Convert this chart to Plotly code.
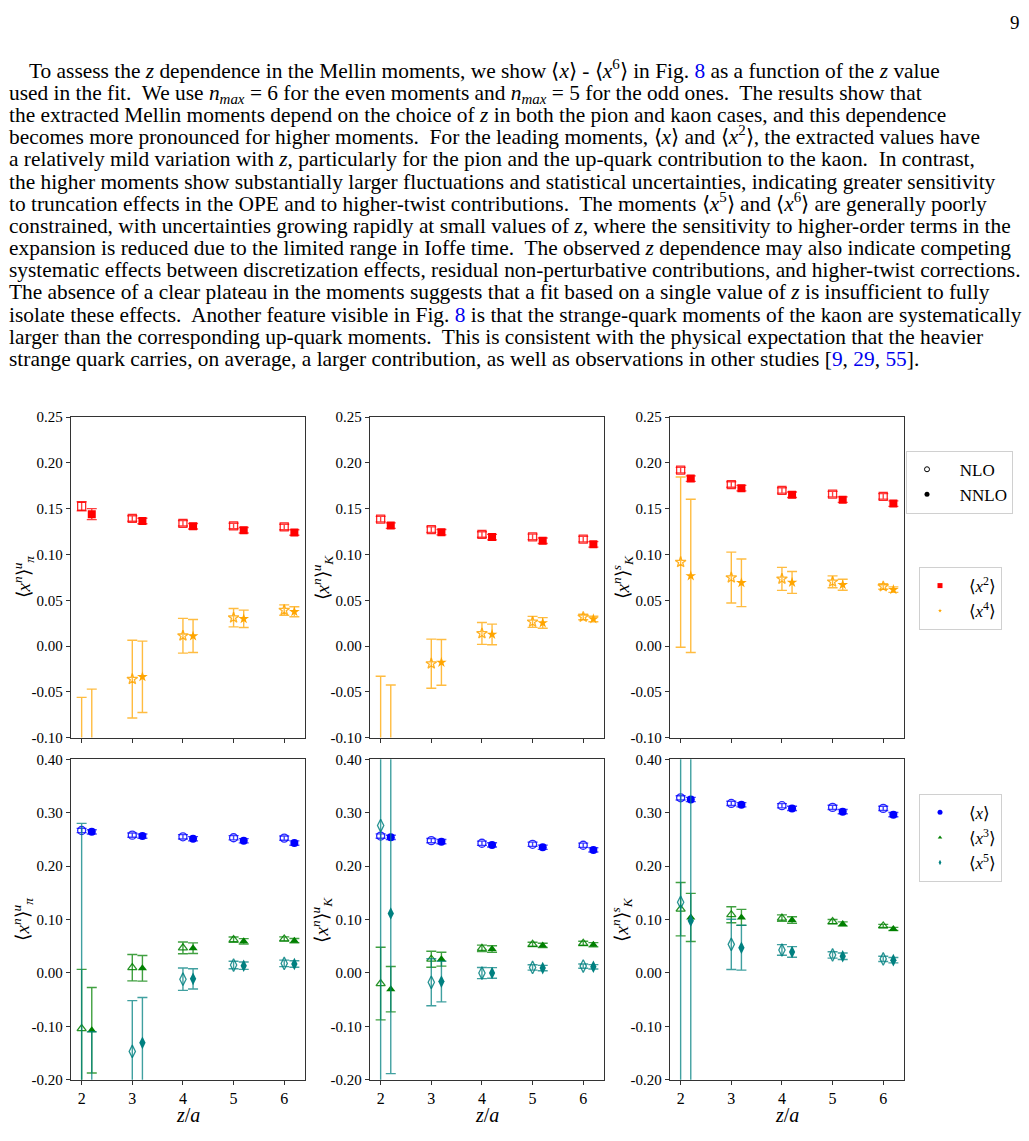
import plotly.graph_objects as go

# ---------------- data ----------------
z_values = [2, 3, 4, 5, 6]
nnlo_shift = 0.2

# pion, up quark -- even moments
pi_u_x2_nlo = [0.1527, 0.1394, 0.1341, 0.1312, 0.1301]
pi_u_x2_nlo_err = [0.005, 0.003, 0.003, 0.003, 0.003]
pi_u_x2_nnlo = [0.1441, 0.1366, 0.1308, 0.1265, 0.1240]
pi_u_x2_nnlo_err = [0.006, 0.003, 0.003, 0.003, 0.003]
pi_u_x4_nlo = [-0.140, -0.0361, 0.0113, 0.0310, 0.0393]
pi_u_x4_nlo_err = [0.084, 0.0424, 0.019, 0.010, 0.0057]
pi_u_x4_nnlo = [-0.130, -0.0336, 0.0110, 0.0298, 0.0375]
pi_u_x4_nnlo_err = [0.083, 0.039, 0.018, 0.0095, 0.0054]

# pion, up quark -- odd moments
pi_u_x1_nlo = [0.2667, 0.2580, 0.2549, 0.2531, 0.2525]
pi_u_x1_nlo_err = [0.004, 0.004, 0.004, 0.004, 0.004]
pi_u_x1_nnlo = [0.2642, 0.2562, 0.2512, 0.2475, 0.2432]
pi_u_x1_nnlo_err = [0.004, 0.004, 0.004, 0.004, 0.004]
pi_u_x3_nlo = [-0.1043, 0.0099, 0.0470, 0.0623, 0.0636]
pi_u_x3_nlo_err = [0.111, 0.0247, 0.011, 0.005, 0.004]
pi_u_x3_nnlo = [-0.1074, 0.0086, 0.0463, 0.0593, 0.0605]
pi_u_x3_nnlo_err = [0.080, 0.024, 0.0099, 0.005, 0.004]
pi_u_x5_nlo = [-0.350, -0.1469, -0.0117, 0.0148, 0.0179]
pi_u_x5_nlo_err = [0.63, 0.095, 0.021, 0.007, 0.006]
pi_u_x5_nnlo = [-0.330, -0.1309, -0.0111, 0.0136, 0.0167]
pi_u_x5_nnlo_err = [0.22, 0.085, 0.019, 0.007, 0.006]

# kaon, up quark -- even moments
k_u_x2_nlo = [0.1387, 0.1272, 0.1219, 0.1193, 0.1168]
k_u_x2_nlo_err = [0.003, 0.003, 0.003, 0.003, 0.003]
k_u_x2_nnlo = [0.1316, 0.1244, 0.1190, 0.1150, 0.1111]
k_u_x2_nnlo_err = [0.003, 0.003, 0.003, 0.003, 0.003]
k_u_x4_nlo = [-0.120, -0.0192, 0.0138, 0.0264, 0.0318]
k_u_x4_nlo_err = [0.087, 0.0268, 0.012, 0.006, 0.003]
k_u_x4_nnlo = [-0.125, -0.0178, 0.0127, 0.0253, 0.0296]
k_u_x4_nnlo_err = [0.0825, 0.025, 0.0113, 0.0058, 0.003]

# kaon, up quark -- odd moments
k_u_x1_nlo = [0.2563, 0.2477, 0.2428, 0.2409, 0.2391]
k_u_x1_nlo_err = [0.004, 0.004, 0.004, 0.004, 0.004]
k_u_x1_nnlo = [0.2539, 0.2458, 0.2397, 0.2354, 0.2304]
k_u_x1_nnlo_err = [0.004, 0.004, 0.004, 0.004, 0.004]
k_u_x3_nlo = [-0.0199, 0.0257, 0.0460, 0.0534, 0.0553]
k_u_x3_nlo_err = [0.068, 0.015, 0.006, 0.004, 0.004]
k_u_x3_nnlo = [-0.0304, 0.0257, 0.0448, 0.0516, 0.0528]
k_u_x3_nnlo_err = [0.0425, 0.013, 0.006, 0.004, 0.004]
k_u_x5_nlo = [0.276, -0.0175, -0.0002, 0.0103, 0.0128]
k_u_x5_nlo_err = [0.55, 0.044, 0.0105, 0.005, 0.004]
k_u_x5_nnlo = [0.1114, -0.0162, 0.0000, 0.0091, 0.0115]
k_u_x5_nnlo_err = [0.30, 0.038, 0.010, 0.005, 0.004]

# kaon, strange quark -- even moments
k_s_x2_nlo = [0.1922, 0.1764, 0.1700, 0.1660, 0.1635]
k_s_x2_nlo_err = [0.003, 0.003, 0.003, 0.003, 0.003]
k_s_x2_nnlo = [0.1829, 0.1725, 0.1653, 0.1599, 0.1556]
k_s_x2_nnlo_err = [0.003, 0.003, 0.003, 0.003, 0.003]
k_s_x4_nlo = [0.0917, 0.0748, 0.0734, 0.0702, 0.0651]
k_s_x4_nlo_err = [0.093, 0.0278, 0.0126, 0.0065, 0.003]
k_s_x4_nnlo = [0.0766, 0.0691, 0.0695, 0.0670, 0.0616]
k_s_x4_nnlo_err = [0.0837, 0.026, 0.012, 0.006, 0.003]

# kaon, strange quark -- odd moments
k_s_x1_nlo = [0.3279, 0.3174, 0.3131, 0.3100, 0.3081]
k_s_x1_nlo_err = [0.004, 0.004, 0.004, 0.004, 0.004]
k_s_x1_nnlo = [0.3248, 0.3149, 0.3081, 0.3020, 0.2964]
k_s_x1_nnlo_err = [0.004, 0.004, 0.004, 0.004, 0.004]
k_s_x3_nlo = [0.1194, 0.1090, 0.1028, 0.0960, 0.0880]
k_s_x3_nlo_err = [0.050, 0.015, 0.006, 0.004, 0.003]
k_s_x3_nnlo = [0.1040, 0.1040, 0.0991, 0.0917, 0.0824]
k_s_x3_nnlo_err = [0.045, 0.015, 0.006, 0.004, 0.003]
k_s_x5_nlo = [0.1324, 0.0535, 0.0430, 0.0337, 0.0263]
k_s_x5_nlo_err = [0.60, 0.047, 0.010, 0.006, 0.005]
k_s_x5_nnlo = [0.0979, 0.0473, 0.0393, 0.0313, 0.0239]
k_s_x5_nnlo_err = [0.60, 0.042, 0.010, 0.006, 0.005]

# tick labels
x_ticks = [2, 3, 4, 5, 6]
x_tick_labels = ["2", "3", "4", "5", "6"]
even_y_ticks = [-0.10, -0.05, 0.00, 0.05, 0.10, 0.15, 0.20, 0.25]
even_y_labels = ["-0.10", "-0.05", "0.00", "0.05", "0.10", "0.15", "0.20", "0.25"]
odd_y_ticks = [-0.20, -0.10, 0.00, 0.10, 0.20, 0.30, 0.40]
odd_y_labels = ["-0.20", "-0.10", "0.00", "0.10", "0.20", "0.30", "0.40"]

y_titles = [
    "⟨<i>x</i><sup><i>n</i></sup>⟩<sup><i>u</i></sup><sub><i>π</i></sub>",
    "⟨<i>x</i><sup><i>n</i></sup>⟩<sup><i>u</i></sup><sub><i>K</i></sub>",
    "⟨<i>x</i><sup><i>n</i></sup>⟩<sup><i>s</i></sup><sub><i>K</i></sub>",
]

moment_names = {
    "x1": "⟨<i>x</i>⟩",
    "x2": "⟨<i>x</i><sup>2</sup>⟩",
    "x3": "⟨<i>x</i><sup>3</sup>⟩",
    "x4": "⟨<i>x</i><sup>4</sup>⟩",
    "x5": "⟨<i>x</i><sup>5</sup>⟩",
}

# ---------------- styles ----------------
W, H = 1029, 1141
SERIF = "Liberation Serif, Times New Roman, serif"
colors = {"x1": (0, 0, 255), "x2": (255, 0, 0), "x3": (0, 128, 0),
          "x4": (255, 165, 0), "x5": (0, 128, 128)}
symbols = {"x1": "circle", "x2": "square", "x3": "triangle-up",
           "x4": "star", "x5": "diamond-tall"}
sizes = {"x1": 8, "x2": 8, "x3": 8, "x4": 8, "x5": 9}


def px(x):
    return x / W


def py(y):
    return 1 - y / H


def rgb(c, a=1.0):
    return "rgba(%d,%d,%d,%.2f)" % (c[0], c[1], c[2], a)


panels = [
    ("x", "y", {"x2": (pi_u_x2_nlo, pi_u_x2_nlo_err, pi_u_x2_nnlo, pi_u_x2_nnlo_err),
                "x4": (pi_u_x4_nlo, pi_u_x4_nlo_err, pi_u_x4_nnlo, pi_u_x4_nnlo_err)}),
    ("x2", "y2", {"x2": (k_u_x2_nlo, k_u_x2_nlo_err, k_u_x2_nnlo, k_u_x2_nnlo_err),
                  "x4": (k_u_x4_nlo, k_u_x4_nlo_err, k_u_x4_nnlo, k_u_x4_nnlo_err)}),
    ("x3", "y3", {"x2": (k_s_x2_nlo, k_s_x2_nlo_err, k_s_x2_nnlo, k_s_x2_nnlo_err),
                  "x4": (k_s_x4_nlo, k_s_x4_nlo_err, k_s_x4_nnlo, k_s_x4_nnlo_err)}),
    ("x4", "y4", {"x1": (pi_u_x1_nlo, pi_u_x1_nlo_err, pi_u_x1_nnlo, pi_u_x1_nnlo_err),
                  "x3": (pi_u_x3_nlo, pi_u_x3_nlo_err, pi_u_x3_nnlo, pi_u_x3_nnlo_err),
                  "x5": (pi_u_x5_nlo, pi_u_x5_nlo_err, pi_u_x5_nnlo, pi_u_x5_nnlo_err)}),
    ("x5", "y5", {"x1": (k_u_x1_nlo, k_u_x1_nlo_err, k_u_x1_nnlo, k_u_x1_nnlo_err),
                  "x3": (k_u_x3_nlo, k_u_x3_nlo_err, k_u_x3_nnlo, k_u_x3_nnlo_err),
                  "x5": (k_u_x5_nlo, k_u_x5_nlo_err, k_u_x5_nnlo, k_u_x5_nnlo_err)}),
    ("x6", "y6", {"x1": (k_s_x1_nlo, k_s_x1_nlo_err, k_s_x1_nnlo, k_s_x1_nnlo_err),
                  "x3": (k_s_x3_nlo, k_s_x3_nlo_err, k_s_x3_nnlo, k_s_x3_nnlo_err),
                  "x5": (k_s_x5_nlo, k_s_x5_nlo_err, k_s_x5_nnlo, k_s_x5_nnlo_err)}),
]

fig = go.Figure()

for xa, ya, data in panels:
    for key, (nlo, nlo_err, nnlo, nnlo_err) in data.items():
        c = colors[key]
        fig.add_trace(go.Scatter(
            x=z_values, y=nlo, mode="markers", xaxis=xa, yaxis=ya, showlegend=False,
            error_y=dict(type="data", array=nlo_err, visible=True,
                         color=rgb(c, 0.75), thickness=1.4, width=5),
            marker=dict(symbol=symbols[key] + "-open", size=sizes[key], color=rgb(c, 0.85),
                        line=dict(width=1.3, color=rgb(c, 0.85))),
        ))
        fig.add_trace(go.Scatter(
            x=[z + nnlo_shift for z in z_values], y=nnlo, mode="markers", xaxis=xa, yaxis=ya,
            showlegend=False,
            error_y=dict(type="data", array=nnlo_err, visible=True,
                         color=rgb(c, 0.75), thickness=1.4, width=5),
            marker=dict(symbol=symbols[key], size=sizes[key], color=rgb(c),
                        line=dict(width=0)),
        ))

NB = "\u00a0\u00a0\u00a0"
fig.add_trace(go.Scatter(x=[None], y=[None], mode="markers", name=NB + "NLO", legend="legend",
                         marker=dict(symbol="circle-open", size=5, color="black",
                                     line=dict(width=1, color="black"))))
fig.add_trace(go.Scatter(x=[None], y=[None], mode="markers", name=NB + "NNLO", legend="legend",
                         marker=dict(symbol="circle", size=5, color="black")))
for key, sz in [("x2", 5), ("x4", 3)]:
    fig.add_trace(go.Scatter(x=[None], y=[None], mode="markers", legend="legend2",
                             name="\u00a0\u00a0" + moment_names[key],
                             marker=dict(symbol=symbols[key], size=sz, color=rgb(colors[key]))))
for key, sz in [("x1", 5), ("x3", 4), ("x5", 4)]:
    fig.add_trace(go.Scatter(x=[None], y=[None], mode="markers", legend="legend3",
                             name="\u00a0\u00a0" + moment_names[key],
                             marker=dict(symbol="circle" if key == "x1" else symbols[key],
                                         size=sz, color=rgb(colors[key]))))

# ---------------- axes ----------------
col_px = [(71, 305), (370, 604), (670, 904)]
row_px = [(415, 740), (762, 1087)]

layout_axes = {}
for i, (xa, ya, _) in enumerate(panels):
    r, cidx = divmod(i, 3)
    x0, x1 = col_px[cidx]
    y0, y1 = row_px[r]
    xkey = "xaxis" if xa == "x" else "xaxis" + xa[1:]
    ykey = "yaxis" if ya == "y" else "yaxis" + ya[1:]
    bottom = r == 1
    layout_axes[xkey] = dict(
        domain=[px(x0), px(x1)], anchor=ya, range=[1.79, 6.41],
        tickvals=x_ticks, ticktext=x_tick_labels, showticklabels=bottom,
        ticks="outside", ticklen=4, tickwidth=1, tickcolor="#333",
        showline=True, mirror=True, linecolor="#333", linewidth=1.3,
        showgrid=False, zeroline=False,
        tickfont=dict(family=SERIF, size=16, color="black"),
    )
    layout_axes[ykey] = dict(
        domain=[py(y1), py(y0)], anchor=xa,
        range=[-0.20, 0.40] if bottom else [-0.10, 0.25],
        tickvals=odd_y_ticks if bottom else even_y_ticks,
        ticktext=odd_y_labels if bottom else even_y_labels,
        ticks="outside", ticklen=4, tickwidth=1, tickcolor="#333",
        showline=True, mirror=True, linecolor="#333", linewidth=1.3,
        showgrid=False, zeroline=False,
        tickfont=dict(family=SERIF, size=15, color="black"),
    )

annotations = []
for i in range(6):
    r, cidx = divmod(i, 3)
    x0, _ = col_px[cidx]
    y0, y1 = row_px[r]
    annotations.append(dict(
        x=px(x0 - 48), y=py((y0 + y1) / 2), xref="paper", yref="paper",
        text=y_titles[cidx], textangle=-90, showarrow=False,
        font=dict(family=SERIF, size=19, color="black"),
        xanchor="center", yanchor="middle"))
for cidx in range(3):
    x0, x1 = col_px[cidx]
    annotations.append(dict(
        x=px((x0 + x1) / 2), y=py(1123), xref="paper", yref="paper",
        text="<i>z</i>/<i>a</i>", showarrow=False,
        font=dict(family=SERIF, size=20, color="black"),
        xanchor="center", yanchor="middle"))

link = "<span style='color:#0000ee'>%s</span>"
# invisible sup + sub so that every line box has the same height
PAD = "<sup>\u00a0</sup><sub>\u00a0</sub>"
para_lines = [
    "To assess the <i>z</i> dependence in the Mellin moments, we show ⟨<i>x</i>⟩ - ⟨<i>x</i><sup>6</sup>⟩ in Fig. "
    + link % "8" + " as a function of the <i>z</i> value",
    "used in the fit.  We use <i>n<sub>max</sub></i> = 6 for the even moments and <i>n<sub>max</sub></i> = 5 for the odd ones.  The results show that",
    "the extracted Mellin moments depend on the choice of <i>z</i> in both the pion and kaon cases, and this dependence",
    "becomes more pronounced for higher moments.  For the leading moments, ⟨<i>x</i>⟩ and ⟨<i>x</i><sup>2</sup>⟩, the extracted values have",
    "a relatively mild variation with <i>z</i>, particularly for the pion and the up-quark contribution to the kaon.  In contrast,",
    "the higher moments show substantially larger fluctuations and statistical uncertainties, indicating greater sensitivity",
    "to truncation effects in the OPE and to higher-twist contributions.  The moments ⟨<i>x</i><sup>5</sup>⟩ and ⟨<i>x</i><sup>6</sup>⟩ are generally poorly",
    "constrained, with uncertainties growing rapidly at small values of <i>z</i>, where the sensitivity to higher-order terms in the",
    "expansion is reduced due to the limited range in Ioffe time.  The observed <i>z</i> dependence may also indicate competing",
    "systematic effects between discretization effects, residual non-perturbative contributions, and higher-twist corrections.",
    "The absence of a clear plateau in the moments suggests that a fit based on a single value of <i>z</i> is insufficient to fully",
    "isolate these effects.  Another feature visible in Fig. " + link % "8"
    + " is that the strange-quark moments of the kaon are systematically",
    "larger than the corresponding up-quark moments.  This is consistent with the physical expectation that the heavier",
    "strange quark carries, on average, a larger contribution, as well as observations in other studies ["
    + link % "9" + ", " + link % "29" + ", " + link % "55" + "].",
]
for i, line in enumerate(para_lines):
    annotations.append(dict(
        x=px(27 if i == 0 else 7), y=py(63 + 22.5 * i), xref="paper", yref="paper",
        text=line + PAD, showarrow=False, xanchor="left", yanchor="middle",
        font=dict(family=SERIF, size=21.4, color="black")))
annotations.append(dict(x=px(1022), y=py(15), xref="paper", yref="paper", text="9",
                        showarrow=False, xanchor="right", yanchor="middle",
                        font=dict(family=SERIF, size=19, color="black")))

legend_common = dict(bgcolor="white", bordercolor="#d0d0d0", borderwidth=1,
                     font=dict(family=SERIF, size=17, color="black"),
                     xanchor="left", yanchor="top", itemwidth=30, tracegroupgap=0,
                     xref="paper", yref="paper")

fig.update_layout(
    width=W, height=H, margin=dict(l=0, r=0, t=0, b=0),
    paper_bgcolor="white", plot_bgcolor="white",
    showlegend=True,
    legend=dict(x=px(906), y=py(449), **legend_common),
    legend2=dict(x=px(919), y=py(567), **legend_common),
    legend3=dict(x=px(919), y=py(797), **legend_common),
    annotations=annotations,
    **layout_axes,
)

fig.write_html("out.html")
